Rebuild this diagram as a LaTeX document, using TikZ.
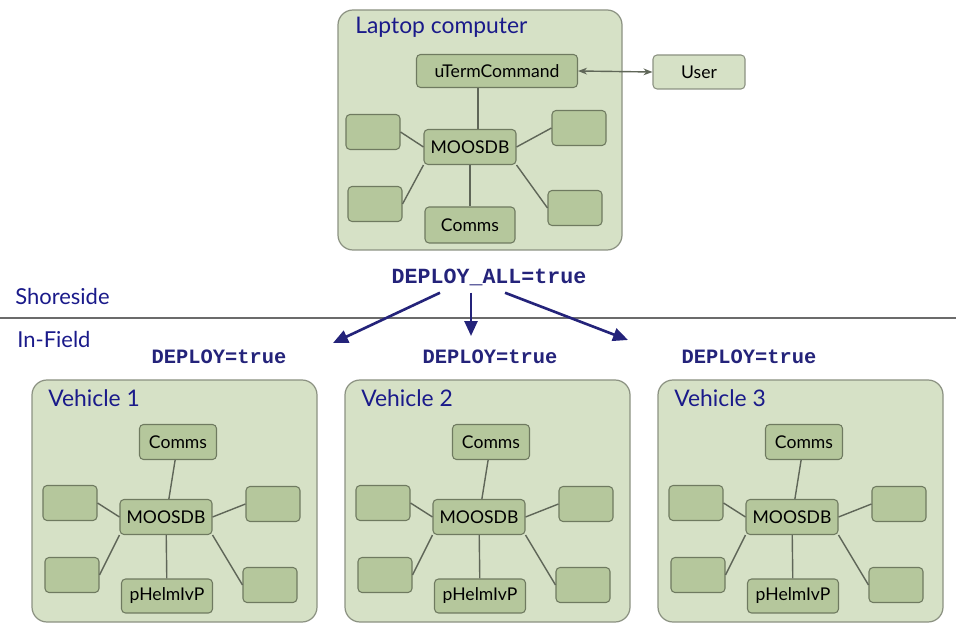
\documentclass[tikz,border=0pt]{standalone}
\usepackage{fontspec}
\setmainfont{Lato}
\newfontfamily\codefont{Liberation Mono}
\usetikzlibrary{arrows.meta,calc}
\definecolor{boxfill}{HTML}{D6E1C6}
\definecolor{boxline}{HTML}{8C9282}
\definecolor{appfill}{HTML}{B5C79C}
\definecolor{appline}{HTML}{6F7A60}
\definecolor{linkgray}{HTML}{5F6658}
\definecolor{titleblue}{HTML}{1A1A8A}
\definecolor{flagblue}{HTML}{24237A}
\definecolor{rulegray}{HTML}{6B6B6B}

\begin{document}
\begin{tikzpicture}[x=0.02cm, y=-0.02cm, every node/.style={inner sep=0pt},
	host/.style={draw=boxline, fill=boxfill, rounded corners=0.3cm, line width=0.7pt},
	hosttitle/.style={anchor=west, text=titleblue, font=\fontsize{13}{15}\selectfont},
	app/.style={draw=appline, fill=appfill, rounded corners=0.08cm, line width=0.6pt, minimum height=0.7cm, font=\fontsize{10}{12}\selectfont},
	spare/.style={app, minimum width=1.08cm},
	zone/.style={anchor=west, text=titleblue, font=\fontsize{12.5}{14}\selectfont},
	flag/.style={text=flagblue, font=\codefont\bfseries\fontsize{11.6}{13}\selectfont},
	every edge/.style={draw=linkgray, line width=0.8pt},
	talk/.style={draw=linkgray, line width=0.8pt, {Stealth[length=0.18cm]}-{Stealth[length=0.18cm]}},
	push/.style={draw=flagblue, line width=1.5pt, -{Triangle[length=0.3cm, width=0.26cm]}}]

	\useasboundingbox (0,0) rectangle (956,624);

	\draw[host] (338,10) rectangle (622,250);
	\node[hosttitle] (laptop) at (355,27) {Laptop computer};
	\node[app, minimum width=3.22cm, minimum height=0.66cm] (uterm) at (497,71) {uTermCommand};
	\node[app, minimum width=1.84cm, minimum height=0.68cm, fill=boxfill, draw=boxline] (user) at (699,72) {User};
	\node[app, minimum width=1.84cm] (mdb) at (470,147) {MOOSDB};
	\node[app, minimum width=1.8cm, minimum height=0.72cm] (comms) at (470,225) {Comms};
	\node[spare] (lu) at (373,132) {};
	\node[spare] (ld) at (375,204) {};
	\node[spare] (ru) at (579,128) {};
	\node[spare] (rd) at (575,208) {};

	\coordinate (mt) at ($(mdb.north)+(8,0)$);
	\path (mt) edge (mt |- uterm.south)
		(mdb) edge (comms)
		(lu.east) edge (mdb.west)
		(ld.east) edge (mdb.south west)
		(mdb.east) edge (ru.west)
		(mdb.south east) edge (rd.west);
	\draw[talk] (uterm.east) -- (user.west);

	\node[flag, font=\codefont\bfseries\fontsize{12.3}{14}\selectfont] (dall) at (489,277) {DEPLOY\_ALL=true};
	\node[zone] (shore) at (15,297) {Shoreside};
	\node[zone] (field) at (17,339) {In-Field};
	\draw[rulegray, line width=1.6pt] (0,318) -- (956,318);

	\coordinate (tip1) at (333,343);
	\coordinate (tip2) at (471,336);
	\coordinate (tip3) at (628,340);
	\draw[push] ($(dall.south)+(-49,7)$) -- (tip1);
	\draw[push] ($(dall.south)+(-18,7)$) -- (tip2);
	\draw[push] ($(dall.south)+(16,7)$) -- (tip3);

	\node[flag] (dep1) at (219,357) {DEPLOY=true};
	\node[flag] (dep2) at (490,357) {DEPLOY=true};
	\node[flag] (dep3) at (749,357) {DEPLOY=true};

	\foreach \i/\x in {1/32, 2/345, 3/658} {
		\begin{scope}[shift={(\x,380)}]
			\draw[host] (0,0) rectangle (285,242);
			\node[hosttitle] (v\i) at (16,18) {Vehicle \i};
			\node[app, minimum width=1.54cm] (v\i-comms) at (146,62) {Comms};
			\node[app, minimum width=1.84cm] (v\i-mdb) at (134,137) {MOOSDB};
			\node[app, minimum width=1.82cm, minimum height=0.68cm] (v\i-helm) at (135,216) {pHelmIvP};
			\node[spare] (v\i-lu) at (38,123) {};
			\node[spare] (v\i-ld) at (40,195) {};
			\node[spare] (v\i-ru) at (241,124) {};
			\node[spare] (v\i-rd) at (238,205) {};
			\path (v\i-mdb) edge (v\i-comms)
				(v\i-mdb) edge (v\i-helm)
				(v\i-lu.east) edge (v\i-mdb.west)
				(v\i-ld.east) edge (v\i-mdb.south west)
				(v\i-mdb.east) edge (v\i-ru.west)
				(v\i-mdb.south east) edge (v\i-rd.west);
		\end{scope}
	}
\end{tikzpicture}
\end{document}
